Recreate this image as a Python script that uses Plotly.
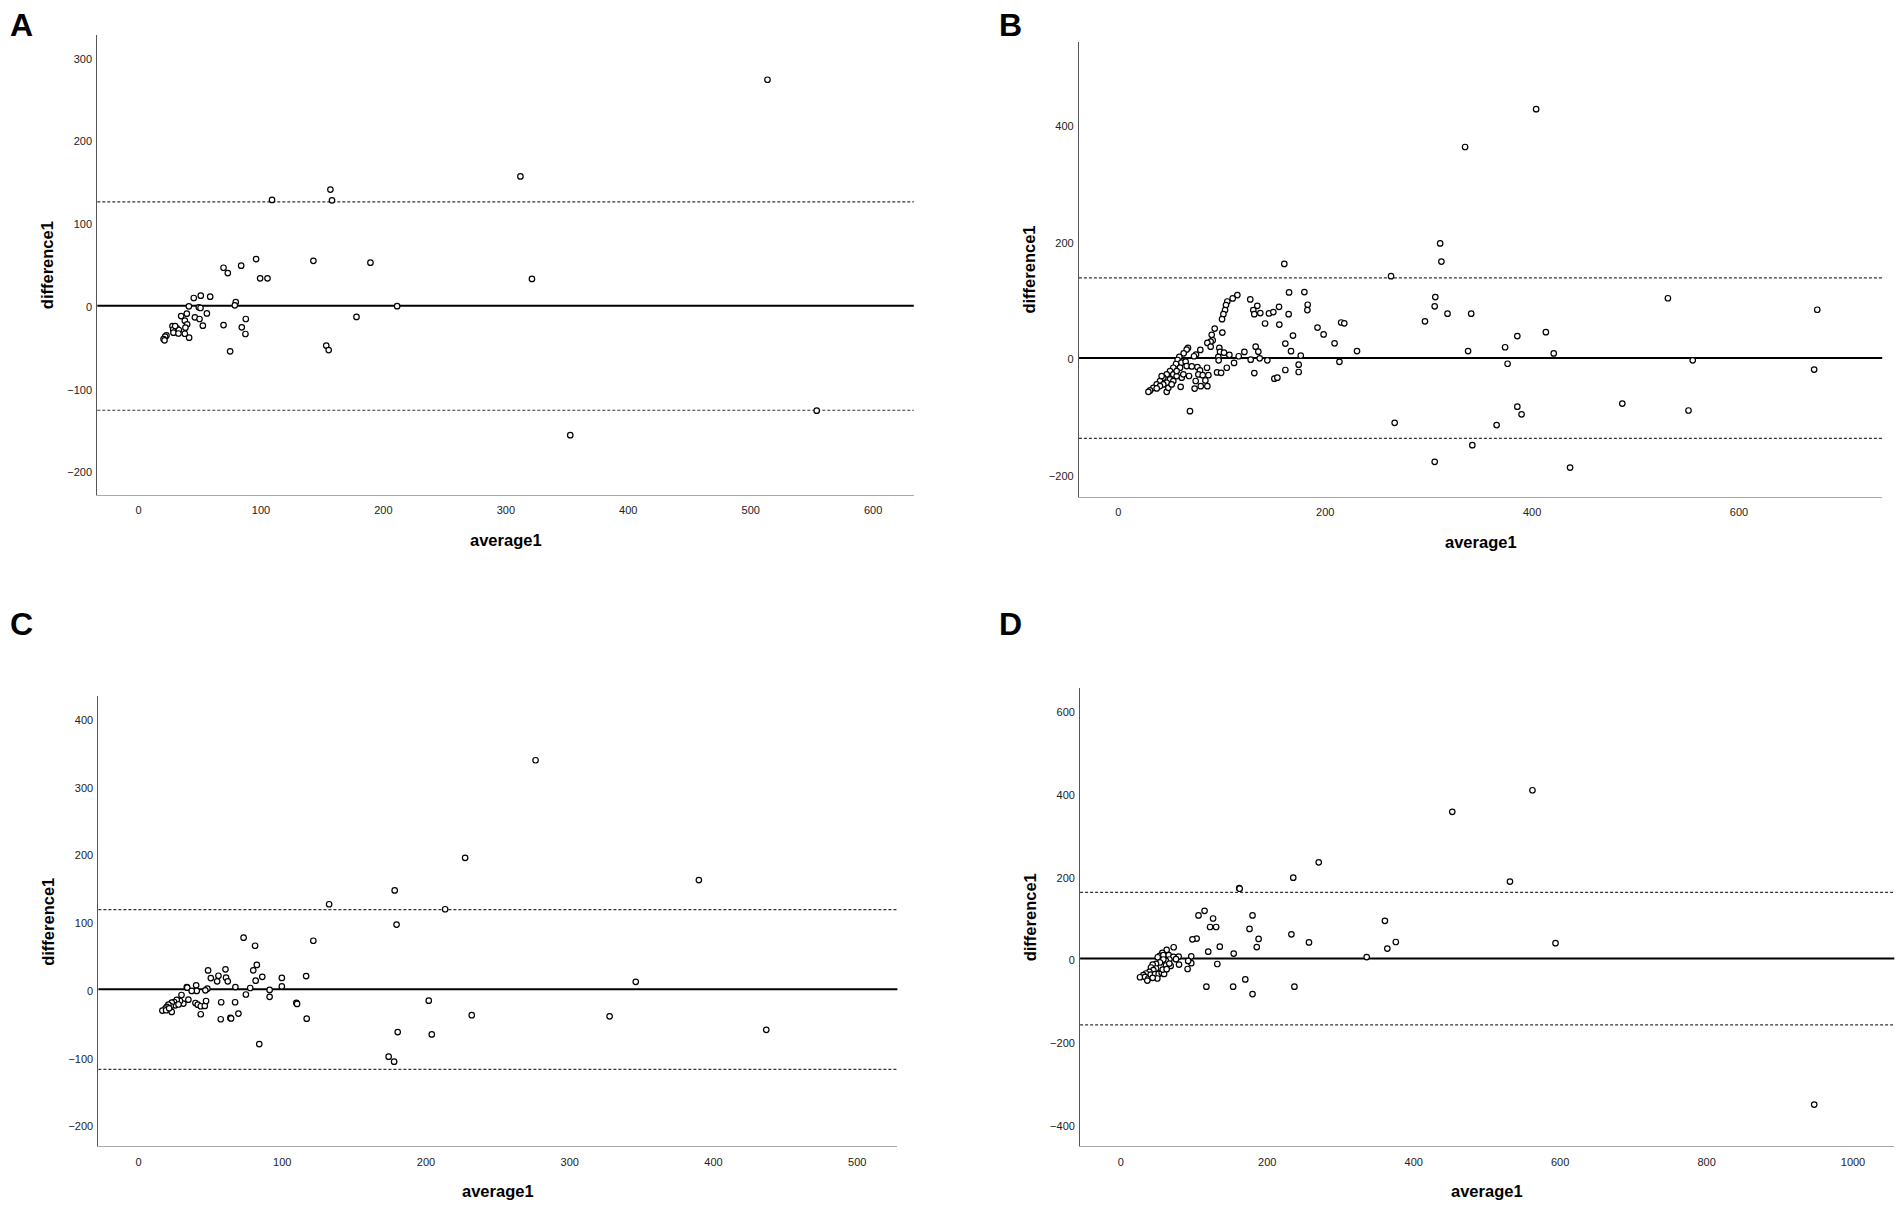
import plotly.graph_objects as go

# Bland-Altman panels A-D: average1 vs difference1

a_avg = [96.0, 83.8, 69.4, 72.9, 99.3, 105.3, 45.1, 50.8, 58.5, 79.4, 78.6, 41.1, 49.2, 50.6,
         55.8, 39.4, 34.8, 46.0, 49.8, 87.6, 37.8, 52.5, 69.4, 84.3, 87.3, 74.8, 41.3, 39.7,
         38.3, 27.7, 31.3, 28.3, 32.9, 28.5, 37.8, 32.6, 22.8, 21.7, 20.4, 21.2, 29.9,
         513.7, 311.9, 321.3, 352.6, 553.9, 109.0, 156.7, 158.0, 142.8, 189.4, 211.2, 178.0,
         153.3, 155.3]
a_diff = [58.0, 50.0, 47.5, 41.1, 34.7, 34.7, 10.9, 13.7, 12.5, 6.0, 2.0, 0.8, -0.4, -1.2,
          -7.7, -8.1, -10.9, -12.5, -14.5, -14.5, -16.5, -22.6, -21.8, -24.6, -32.6, -53.6, -37.1, -20.9,
          -25.0, -23.0, -25.8, -27.2, -27.8, -31.0, -32.3, -32.0, -34.3, -35.9, -38.7, -40.3, -23.0,
          274.8, 157.9, 34.0, -155.0, -125.3, 129.5, 142.0, 129.0, 55.9, 53.6, 1.0, -12.0,
          -46.6, -52.0]

b_avg = [403.9, 335.2, 311.1, 312.3, 263.6, 306.4, 305.8, 296.4, 318.2, 341.1, 338.1, 373.9,
         385.7, 413.3, 420.9, 376.3, 531.3, 675.7, 555.3, 672.7, 487.2, 551.2, 385.7, 389.8,
         365.7, 267.1, 342.2, 305.8, 436.7, 230.7, 215.4, 218.4, 192.5, 198.4, 209.0, 213.7,
         160.4, 127.5, 134.3, 130.4, 131.4, 137.2, 145.6, 149.8, 155.3, 165.0, 179.8, 183.0,
         182.7, 164.6, 141.8, 155.6, 168.8, 161.4, 132.7, 135.3, 166.9, 176.3, 121.8, 136.6,
         144.0, 127.9, 131.4, 161.4, 174.3, 174.3, 150.8, 153.7,
         115.0, 110.5, 105.3, 104.0, 103.1, 101.5, 100.2, 100.5, 93.1, 90.2, 91.2, 89.2, 86.0,
         89.2, 97.6, 98.3, 102.1, 107.3, 111.8, 116.3, 96.6, 96.9, 79.2, 75.0, 73.1, 67.3, 66.0,
         63.1, 58.9, 57.3, 60.9, 65.0, 55.7, 59.6, 66.0, 70.9, 76.4, 78.9, 85.7, 77.3, 81.5,
         87.0, 95.4, 99.3, 104.8, 84.1, 79.6, 86.0, 73.7, 74.7, 61.2, 62.8, 68.3, 60.2, 46.7,
         69.2, 53.1, 49.9, 46.7, 43.4, 40.2, 37.0, 33.8, 30.6, 29.0, 53.1, 49.9, 46.7, 43.4,
         40.2, 37.0, 53.1, 56.3, 48.3, 51.5, 41.8, 56.3]
b_diff = [429.1, 364.2, 198.7, 167.5, 142.4, 106.6, 90.7, 64.9, 78.1, 78.1, 13.9, 20.5,
          39.7, 46.4, 9.9, -7.9, 104.6, 84.8, -2.0, -17.9, -76.2, -88.1, -81.5, -94.7,
          -113.2, -109.3, -147.7, -176.2, -186.1, 13.9, 62.9, 61.6, 54.3, 42.4, 27.2, -4.6,
          163.4, 102.5, 91.6, 84.2, 77.3, 79.1, 78.5, 80.8, 89.9, 114.6, 115.1, 93.4,
          84.2, 77.3, 61.2, 59.4, 40.5, 26.7, 21.5, 12.9, 13.8, 6.0, 12.4, 1.5,
          -2.0, -0.9, -23.8, -18.6, -9.4, -22.0, -33.5, -31.8,
          110.0, 104.2, 99.0, 92.8, 84.2, 77.3, 68.7, 45.7, 52.5, 41.7, 32.5, 30.1, 27.9,
          21.5, 19.3, 12.4, 11.2, 7.2, -6.5, 5.0, 3.8, -1.9, 15.8, 7.8, 5.0, 19.3, 16.4,
          10.0, 3.8, -1.4, -6.0, -4.3, -8.3, -14.7, -11.8, -12.4, -13.5, -19.3, -14.7, -26.2, -27.4,
          -27.4, -22.8, -23.4, -14.7, -36.6, -46.4, -46.4, -50.4, -37.5, -31.8, -26.0, -28.9, -47.5, -56.1,
          -89.2, -14.7, -20.4, -26.2, -31.8, -37.6, -43.4, -49.1, -53.7, -56.1, -26.2, -34.8, -40.5, -43.4,
          -46.2, -50.3, -37.6, -29.0, -49.1, -43.4, -29.0, -20.4]

c_avg = [276.2, 227.2, 389.8, 178.2, 132.6, 213.3, 179.5, 121.6, 73.1, 81.1, 345.9, 327.7,
         231.8, 201.9, 204.0, 180.3, 174.0, 177.8, 436.7, 84.0, 117.0, 109.8, 110.3, 116.6,
         99.7, 99.7, 91.2, 91.2, 86.1, 82.3, 79.8, 81.5, 77.7, 74.7,
         48.4, 60.5, 50.3, 55.6, 60.9, 54.7, 62.1, 67.4, 40.1, 33.6, 33.9, 47.9, 46.5, 40.5,
         37.0, 29.9, 34.7, 31.2, 28.9, 26.6, 24.8, 25.5, 23.1, 22.4, 20.8, 19.7, 18.7, 16.6,
         19.2, 23.1, 21.3, 39.6, 41.2, 43.3, 46.1, 47.0, 43.3, 57.5, 57.2, 63.9, 64.4, 67.2,
         69.5, 27.8]
c_diff = [340.9, 196.8, 163.9, 148.6, 128.2, 120.8, 98.1, 74.3, 78.8, 66.9, 13.6, -37.4,
          -35.7, -14.2, -64.1, -60.7, -97.0, -104.4, -57.3, -78.3, -40.8, -17.6, -19.0, 22.1,
          19.3, 6.8, 1.7, -8.5, 21.0, 38.6, 30.6, 15.3, 4.5, -5.1,
          30.5, 32.0, 19.1, 22.6, 19.7, 14.3, 14.3, 5.9, 8.4, 5.9, 5.0, 3.5, 1.1, 0.1,
          0.1, -5.9, -12.7, -18.6, -14.7, -13.2, -16.2, -21.1, -17.2, -22.5, -20.1, -23.5, -25.9, -28.9,
          -28.4, -30.9, -25.5, -17.7, -20.1, -22.5, -22.0, -14.7, -34.3, -16.6, -41.7, -39.7, -40.5, -16.6,
          -33.3, -19.9]

d_avg = [562.2, 452.7, 270.3, 235.5, 531.5, 161.7, 162.3, 947.0, 360.7, 375.6, 364.0, 335.8,
         593.7, 257.0, 233.0, 237.1, 179.9, 175.8, 188.2, 185.7, 170.0, 179.9, 153.4, 154.2,
         135.2, 131.8, 116.9, 119.4, 126.0, 121.9, 130.2, 114.4, 106.1, 103.6, 97.8, 96.2,
         96.2, 91.2, 92.0,
         72.2, 62.6, 56.7, 53.1, 50.4, 58.1, 65.4, 71.7, 79.0, 66.3, 61.7, 58.1, 75.4, 79.5,
         68.1, 61.7, 53.5, 48.1, 43.5, 41.2, 48.1, 44.4, 39.0, 34.4, 30.8, 26.2, 33.1, 37.6,
         40.8, 46.7, 51.7, 55.8, 59.1, 57.2, 49.9, 43.5, 36.2, 62.6, 66.3]
d_diff = [411.5, 359.4, 237.4, 200.2, 190.9, 175.0, 173.5, -348.2, 95.9, 44.7, 28.9, 8.4,
          41.9, 43.8, 63.3, -63.3, 108.9, 76.4, 52.1, 32.6, -45.6, -81.0, -63.3, 16.8,
          33.5, -8.4, -63.3, 21.4, 101.5, 81.0, 81.0, 120.1, 108.9, 53.1, 51.2, 10.2,
          -6.5, -20.5, -1.0,
          32.1, 25.6, 18.4, 11.1, 7.9, 12.8, 12.8, 8.7, 9.5, 2.4, -0.9, 2.4, 3.2, -9.7,
          -13.0, -12.1, -4.8, -8.1, -9.7, -16.9, -19.3, -23.4, -27.4, -31.4, -35.5, -40.4, -39.6, -43.5,
          -33.9, -33.1, -32.3, -29.8, -32.3, -21.8, -43.5, -41.9, -48.4, -21.0, -7.3]

# mean difference and limits of agreement (lower, mean, upper)
a_lines = [-124.8, 1.4, 127.2]
b_lines = [-135.8, 2.0, 139.7]
c_lines = [-115.7, 2.8, 120.2]
d_lines = [-155.5, 5.0, 164.8]

a_xticks = [0, 100, 200, 300, 400, 500, 600]
a_yticks = [-200, -100, 0, 100, 200, 300]
b_xticks = [0, 200, 400, 600]
b_yticks = [-200, 0, 200, 400]
c_xticks = [0, 100, 200, 300, 400, 500]
c_yticks = [-200, -100, 0, 100, 200, 300, 400]
d_xticks = [0, 200, 400, 600, 800, 1000]
d_yticks = [-400, -200, 0, 200, 400, 600]

# the page body keeps its default 8px margin, so the figure is drawn 8px in
OFF = 8
W, H = 1888, 1192
FONT = "Liberation Sans, Arial, sans-serif"

panels = [
    # letter, x, y, lines, xticks, yticks, xrange, yrange, page box (left, right, top, bottom), letter pos
    ("A", a_avg, a_diff, a_lines, a_xticks, a_yticks, [-33.7, 633.2], [-227.3, 329.3], (97.3, 913.8, 34.7, 495.0), (21.5, 25)),
    ("B", b_avg, b_diff, b_lines, b_xticks, b_yticks, [-38.2, 738.5], [-236.4, 543.7], (1078.9, 1882.2, 42.4, 496.9), (1010, 25)),
    ("C", c_avg, c_diff, c_lines, c_xticks, c_yticks, [-27.9, 527.9], [-229.5, 435.2], (98.4, 897.4, 696.4, 1146.4), (21.5, 624)),
    ("D", d_avg, d_diff, d_lines, d_xticks, d_yticks, [-55.6, 1056.4], [-449.3, 658.7], (1080.1, 1894.3, 688.0, 1146.4), (1010, 624)),
]


def px(x):
    return (x - OFF) / W


def py(y):
    return 1 - (y - OFF) / H


fig = go.Figure()
annotations = []
shapes = []
layout_axes = {}

for i, (letter, xs, ys, lines, xt, yt, xr, yr, box, lpos) in enumerate(panels):
    n = "" if i == 0 else str(i + 1)
    left, right, top, bottom = box

    fig.add_trace(go.Scatter(
        x=xs, y=ys, mode="markers", xaxis="x" + n, yaxis="y" + n,
        marker=dict(symbol="circle", size=5.5, color="white",
                    line=dict(color="black", width=1.2)),
        showlegend=False, hoverinfo="x+y"))

    layout_axes["xaxis" + n] = dict(
        domain=[px(left), px(right)], range=xr, anchor="y" + n, tickvals=xt,
        showgrid=False, zeroline=False, showline=True, linecolor="#a8a8a8", linewidth=1,
        ticks="outside", ticklen=5, tickcolor="rgba(0,0,0,0)",
        tickfont=dict(family=FONT, size=11, color="#222"), fixedrange=True)
    layout_axes["yaxis" + n] = dict(
        domain=[py(bottom), py(top)], range=yr, anchor="x" + n, tickvals=yt,
        showgrid=False, zeroline=False, showline=True, linecolor="#555", linewidth=1,
        ticks="outside", ticklen=2, tickcolor="rgba(0,0,0,0)",
        tickfont=dict(family=FONT, size=11, color="#222"), fixedrange=True)

    xref_dom = ("x" + n) + " domain"
    for k, v in enumerate(lines):
        if k == 1:
            line = dict(color="black", width=2)
        else:
            line = dict(color="#333", width=1.2, dash="3px,2px")
        shapes.append(dict(type="line", xref=xref_dom, yref="y" + n,
                           x0=0, x1=1, y0=v, y1=v, line=line, layer="below"))

    # panel letter
    annotations.append(dict(text="<b>%s</b>" % letter, xref="paper", yref="paper",
                            x=px(lpos[0]), y=py(lpos[1]), showarrow=False,
                            xanchor="center", yanchor="middle",
                            font=dict(family=FONT, size=32, color="black")))
    # axis titles
    annotations.append(dict(text="<b>average1</b>", xref="paper", yref="paper",
                            x=px((left + right) / 2), y=py(bottom + 45), showarrow=False,
                            xanchor="center", yanchor="middle",
                            font=dict(family=FONT, size=16.5, color="black")))
    annotations.append(dict(text="<b>difference1</b>", xref="paper", yref="paper",
                            x=px(left - 50), y=py((top + bottom) / 2), showarrow=False,
                            xanchor="center", yanchor="middle",
                            textangle=-90, font=dict(family=FONT, size=16.5, color="black")))

fig.update_layout(
    width=W, height=H, autosize=False,
    margin=dict(l=0, r=0, t=0, b=0),
    paper_bgcolor="white", plot_bgcolor="white",
    annotations=annotations, shapes=shapes,
    **layout_axes)

fig.write_html("out.html")
